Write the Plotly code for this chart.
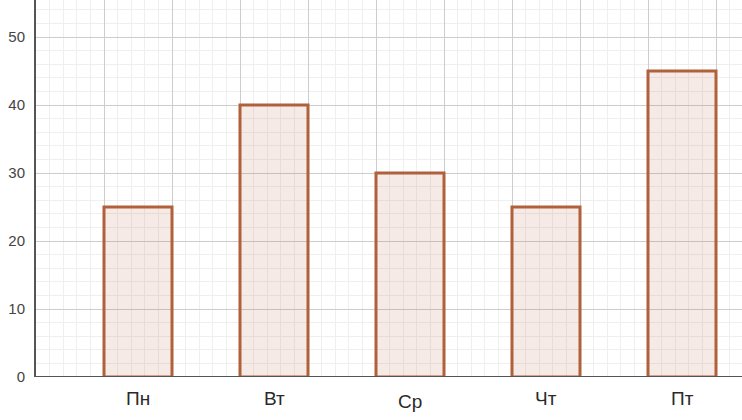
import plotly.graph_objects as go

days = ["Пн", "Вт", "Ср", "Чт", "Пт"]
values = [25, 40, 30, 25, 45]
positions = [1.5, 3.5, 5.5, 7.5, 9.5]
y_ticks = [0, 10, 20, 30, 40, 50]

fig = go.Figure()
fig.add_trace(go.Bar(
    x=positions, y=values, width=1,
    marker=dict(color="rgba(180,95,60,0.13)",
                line=dict(color="#b1603c", width=3)),
    hoverinfo="skip",
))

for d, p in zip(days, positions):
    fig.add_annotation(x=p, y=0, xref="x", yref="y", text=d, showarrow=False,
                       yanchor="top", yshift=-9 if d != "Ср" else -12,
                       font=dict(size=19, color="#2a2a2a", family="Liberation Sans, Arial"))

fig.update_layout(
    width=742, height=420,
    margin=dict(l=36, r=0, t=0, b=43),
    paper_bgcolor="white", plot_bgcolor="white",
    showlegend=False,
    xaxis=dict(range=[0, 706 / 68], tick0=0, dtick=1, showticklabels=False,
               showgrid=True, gridcolor="#cdcdcd", gridwidth=1, zeroline=False,
               showline=False,
               minor=dict(dtick=0.2, tick0=0, showgrid=True, gridcolor="#efefef", gridwidth=1)),
    yaxis=dict(range=[0, 377 / 6.8], tickvals=y_ticks, showgrid=True,
               gridcolor="#cdcdcd", gridwidth=1, zeroline=False,
               showline=True, linecolor="#555", linewidth=2,
               tickfont=dict(size=15, color="#444", family="Liberation Sans, Arial"),
               ticklabelstandoff=6, automargin=False,
               minor=dict(dtick=2, tick0=0, showgrid=True, gridcolor="#efefef", gridwidth=1)),
)
fig.add_shape(type="line", xref="paper", yref="y", x0=0, x1=1, y0=0, y1=0,
              line=dict(color="#555", width=2), layer="above")

fig.write_html("out.html", config={"displayModeBar": False},
               post_script="document.body.style.margin='0';document.body.style.padding='0';")
